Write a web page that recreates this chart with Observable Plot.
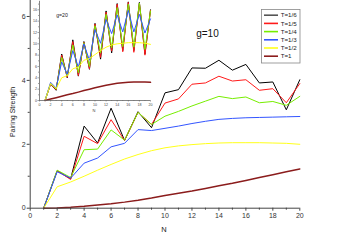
<!DOCTYPE html>
<html><head><meta charset="utf-8">
<script src="https://cdn.jsdelivr.net/npm/d3@7"></script>
<script src="https://cdn.jsdelivr.net/npm/@observablehq/plot@0.6"></script>
<style>
body{margin:0;background:#fff;}
#wrap{position:relative;width:339px;height:240px;overflow:hidden;font-family:"Liberation Sans",Arial,sans-serif;}
#wrap svg{position:absolute;left:0;top:0;overflow:visible;}
</style></head>
<body><div id="wrap"></div>
<script>
const N = d3.range(1, 21);
const seriesLabels = ["T=1/6","T=1/5","T=1/4","T=1/3","T=1/2","T=1"];
const seriesColors = ["#000000","#ff1a1a","#77ee00","#3355ff","#ffff1a","#8b1c1c"];
const seriesWidths = [1, 1, 1, 1, 1, 1.5];

// main panel, g=10
const g10_T6 = [0,1.17,0.92,2.57,2.04,3.13,2.12,3.02,2.52,3.61,3.71,4.39,4.38,4.63,4.32,4.50,3.92,3.95,3.08,4.02];
const g10_T5 = [0,1.17,0.90,2.25,2.02,2.77,2.12,3.00,2.62,3.29,3.42,3.88,3.92,4.13,3.98,4.02,3.69,3.74,3.30,3.90];
const g10_T4 = [0,1.19,0.96,1.83,1.85,2.45,2.13,3.00,2.62,2.88,3.03,3.20,3.35,3.50,3.43,3.48,3.30,3.34,3.22,3.50];
const g10_T3 = [0,1.14,0.94,1.41,1.57,1.92,2.03,2.46,2.43,2.50,2.57,2.65,2.72,2.78,2.81,2.83,2.84,2.85,2.86,2.87];
const g10_T2 = [0,0.67,0.82,1.00,1.19,1.37,1.54,1.68,1.80,1.89,1.95,1.99,2.02,2.04,2.05,2.05,2.05,2.04,2.03,2.00];
const g10_T1 = [0,0.01,0.03,0.06,0.10,0.14,0.19,0.25,0.32,0.40,0.47,0.54,0.62,0.70,0.78,0.87,0.96,1.05,1.14,1.23];

// inset, g=20
const g20_T6 = [0,2.9,1.8,8.2,4.0,10.7,4.3,10.4,5.5,13.6,7.3,15.8,8.4,17.1,8.8,17.4,8.8,17.3,8.2,16.0];
const g20_T5 = [0,2.9,1.9,8.0,4.1,10.4,4.4,10.3,5.6,13.5,7.6,15.6,8.7,17.0,8.6,17.3,8.5,17.2,8.0,15.9];
const g20_T4 = [0,3.0,2.0,7.6,4.3,9.8,4.9,10.2,6.0,13.2,8.4,15.2,9.3,16.4,9.5,17.0,9.4,17.2,9.0,15.8];
const g20_T3 = [0,3.2,2.2,6.8,4.6,8.8,5.9,10.0,7.1,12.5,10.1,14.3,11.8,15.1,12.1,15.9,12.1,15.2,11.9,14.4];
const g20_T2 = [0,3.0,2.1,4.0,4.4,5.6,5.9,7.1,7.4,8.1,8.8,9.4,9.8,10.0,10.1,10.2,10.2,10.2,10.1,9.9];
const g20_T1 = [0,0.25,0.5,0.75,1.0,1.22,1.48,1.75,2.0,2.25,2.48,2.7,2.88,3.03,3.15,3.24,3.28,3.28,3.25,3.2];

const xMajor = [0,2,4,6,8,10,12,14,16,18,20];
const xMinor = [1,3,5,7,9,11,13,15,17,19];
const yMajor = [0,2,4,6];
const yMinor = [1,3,5];
const insetYMajor = [0,2,4,6,8,10,12,14,16];
const insetYMinor = [1,3,5,7,9,11,13,15,17];

function table(arrs){
  return arrs.flatMap((a, k) => a.map((v, i) => ({N: N[i], v, s: k})));
}
const mainData = table([g10_T6,g10_T5,g10_T4,g10_T3,g10_T2,g10_T1]);
const insetData = table([g20_T6,g20_T5,g20_T4,g20_T3,g20_T2,g20_T1]);

const lineMarks = (data) => seriesLabels.map((lab, k) =>
  Plot.line(data.filter(d => d.s === k), {x: "N", y: "v", stroke: seriesColors[k], strokeWidth: seriesWidths[k]}));

const fmt = d3.format("d");
const axisColor = "#444";
const main = Plot.plot({
  width: 339, height: 240,
  marginLeft: 29.7, marginRight: 39.7, marginTop: 0, marginBottom: 32.3,
  x: {domain: [0, 20]},
  y: {domain: [0, 6.5]},
  style: {fontFamily: "'Liberation Sans', Arial, sans-serif", fontSize: "7px", color: "#333", background: "transparent"},
  marks: [
    ...lineMarks(mainData),
    Plot.ruleY([0], {x1: 0, x2: 20, stroke: axisColor}),
    Plot.ruleX([0], {y1: 0, y2: 6.5, stroke: axisColor}),
    Plot.axisX({ticks: xMajor, tickSize: 3, tickPadding: 1.5, tickFormat: fmt, label: null, stroke: axisColor}),
    Plot.axisX({ticks: xMinor, tickSize: 2, tickFormat: () => "", label: null, stroke: axisColor}),
    Plot.axisY({ticks: yMajor, tickSize: 3, tickPadding: 1.5, tickFormat: fmt, label: null, stroke: axisColor}),
    Plot.axisY({ticks: yMinor, tickSize: 2, tickFormat: () => "", label: null, stroke: axisColor}),
    Plot.text(["g=10"], {x: 13.15, y: 5.45, fontSize: 10, fill: "#111", textAnchor: "middle", lineAnchor: "middle"})
  ]
});

const inset = Plot.plot({
  width: 160, height: 115,
  marginLeft: 39, marginRight: 10, marginTop: 0.8, marginBottom: 15,
  x: {domain: [0, 20]},
  y: {domain: [0, 17.5]},
  style: {fontFamily: "'Liberation Sans', Arial, sans-serif", fontSize: "3.6px", color: "#444", background: "transparent"},
  marks: [
    ...lineMarks(insetData),
    Plot.ruleY([0], {x1: 0, x2: 20, stroke: "#666", strokeWidth: 0.8}),
    Plot.ruleX([0], {y1: 0, y2: 17.5, stroke: "#666", strokeWidth: 0.8}),
    Plot.axisX({ticks: xMajor, tickSize: 1.5, tickPadding: 1, tickFormat: fmt, label: null, stroke: "#666", strokeWidth: 0.6}),
    Plot.axisX({ticks: xMinor, tickSize: 1, tickFormat: () => "", label: null, stroke: "#666", strokeWidth: 0.6}),
    Plot.axisY({ticks: insetYMajor, tickSize: 1.5, tickPadding: 1, tickFormat: fmt, label: null, stroke: "#666", strokeWidth: 0.6}),
    Plot.axisY({ticks: insetYMinor, tickSize: 1, tickFormat: () => "", label: null, stroke: "#666", strokeWidth: 0.6}),
    Plot.text(["g=20"], {x: 3.0, y: 15.0, fontSize: 5.2, fill: "#222", textAnchor: "start", lineAnchor: "middle"})
  ]
});

const wrap = document.getElementById("wrap");
wrap.appendChild(main);
wrap.appendChild(inset);

// axis titles
const ms = d3.select(main);
ms.append("text").attr("x", 164).attr("y", 231.5).attr("text-anchor", "middle")
  .attr("font-size", 7.5).attr("fill", "#222").text("N");
ms.append("text").attr("transform", "translate(14.5,112) rotate(-90)").attr("text-anchor", "middle")
  .attr("font-size", 7).attr("fill", "#222").text("Pairing Strength");
d3.select(inset).append("text").attr("x", 94).attr("y", 112).attr("text-anchor", "middle")
  .attr("font-size", 4).attr("fill", "#444").text("N");

// legend
const lg = ms.append("g").attr("transform", "translate(261.5,9.5)");
lg.append("rect").attr("width", 38.5).attr("height", 53.5).attr("fill", "#fff").attr("stroke", "#888").attr("stroke-width", 0.8);
seriesLabels.forEach((lab, k) => {
  const yy = 5.7 + k * 8.2;
  lg.append("line").attr("x1", 2.5).attr("x2", 16.5).attr("y1", yy).attr("y2", yy)
    .attr("stroke", k === 0 ? "#555" : seriesColors[k]).attr("stroke-width", 1.6);
  lg.append("text").attr("x", 19.2).attr("y", yy).attr("dy", "0.35em").attr("text-anchor", "start")
    .attr("font-size", 6.2).attr("fill", "#222").style("font-size", "6.2px").text(lab);
});
</script>
</body></html>
